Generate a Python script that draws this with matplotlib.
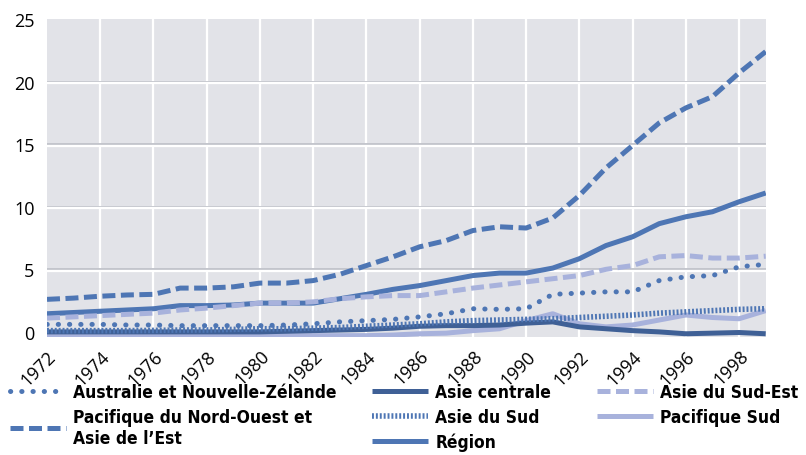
import matplotlib
matplotlib.use("Agg")
import matplotlib.pyplot as plt
from matplotlib.font_manager import FontProperties
import matplotlib.transforms as mtransforms

# Data
years = list(range(1972, 2000))

australie_nz = [0.6, 0.6, 0.6, 0.55, 0.55, 0.5, 0.5, 0.5, 0.5, 0.55, 0.65, 0.8, 0.9, 1.0,
                1.2, 1.45, 1.85, 1.8, 1.85, 3.0, 3.1, 3.2, 3.2, 4.1, 4.4, 4.5, 5.2, 5.4]
asie_centrale = [0.0, 0.0, 0.0, 0.0, 0.0, 0.0, 0.0, 0.0, 0.0, 0.05, 0.1, 0.15, 0.2, 0.3,
                 0.45, 0.5, 0.5, 0.55, 0.7, 0.8, 0.4, 0.25, 0.1, 0.0, -0.15, -0.1, -0.05, -0.15]
asie_sud_est = [1.1, 1.2, 1.3, 1.4, 1.5, 1.75, 1.9, 2.1, 2.3, 2.3, 2.4, 2.65, 2.8, 2.9,
                2.9, 3.2, 3.5, 3.75, 4.0, 4.25, 4.5, 5.0, 5.3, 6.0, 6.1, 5.9, 5.9, 6.05]
pacifique_no = [2.6, 2.7, 2.85, 2.95, 3.0, 3.5, 3.5, 3.6, 3.9, 3.9, 4.1, 4.6, 5.3, 6.0,
                6.8, 7.3, 8.1, 8.4, 8.3, 9.1, 10.9, 13.1, 14.9, 16.7, 17.9, 18.8, 20.7, 22.4]
asie_sud = [0.1, 0.1, 0.1, 0.1, 0.12, 0.15, 0.15, 0.2, 0.25, 0.25, 0.3, 0.35, 0.45, 0.55,
            0.65, 0.8, 0.9, 0.95, 1.0, 1.05, 1.15, 1.25, 1.35, 1.5, 1.6, 1.7, 1.8, 1.85]
pacifique_sud = [-0.3, -0.3, -0.3, -0.3, -0.3, -0.3, -0.3, -0.3, -0.3, -0.3, -0.3, -0.3, -0.3, -0.25,
                 -0.15, -0.1, 0.1, 0.25, 0.9, 1.45, 0.65, 0.4, 0.55, 0.95, 1.35, 1.15, 1.05, 1.7]
region = [1.45, 1.55, 1.65, 1.75, 1.85, 2.1, 2.1, 2.15, 2.3, 2.3, 2.3, 2.65, 3.0, 3.4,
          3.7, 4.1, 4.5, 4.7, 4.7, 5.1, 5.85, 6.9, 7.6, 8.65, 9.2, 9.6, 10.4, 11.1]

labels = ["Australie et Nouvelle-Zélande", "Asie centrale", "Asie du Sud-Est",
          "Pacifique du Nord-Ouest et\nAsie de l\u2019Est", "Asie du Sud", "Pacifique Sud", "Région"]

dark = "#4e76b4"
darker = "#3f6096"
light = "#a8b2dc"
bg = "#e2e3e8"

fig = plt.figure(figsize=(8.06, 4.56), dpi=100)
ax = fig.add_axes([0.0583, 0.259, 0.8917, 0.697])
ax.set_facecolor(bg)

# grid: white vertical lines, horizontal lines with grey shadow
for x in range(1974, 2000, 2):
    ax.axvline(x, color="white", lw=1.6, zorder=1)
shift = mtransforms.offset_copy(ax.transData, fig=fig, x=0, y=-1.5, units="dots")
for y in range(5, 25, 5):
    ax.plot([1972, 1999], [y, y], color="#c3c5cc", lw=1.4, zorder=1)
    ax.plot([1972, 1999], [y, y], color="white", lw=1.6, zorder=1, transform=shift)

lw = 3.6
h_ps, = ax.plot(years, pacifique_sud, color=light, lw=lw, solid_capstyle="butt", zorder=2)
h_ac, = ax.plot(years, asie_centrale, color=darker, lw=lw, solid_capstyle="butt", zorder=3)
h_as, = ax.plot(years, asie_sud, color=dark, lw=4.0, linestyle=(0, (0.35, 0.35)),
                dash_capstyle="butt", zorder=4)
h_au, = ax.plot(years, australie_nz, color=dark, lw=3.6, linestyle=(0, (0.05, 2.2)),
                dash_capstyle="round", zorder=5)
h_re, = ax.plot(years, region, color=dark, lw=lw, solid_capstyle="butt", zorder=6)
h_se, = ax.plot(years, asie_sud_est, color=light, lw=lw, linestyle=(0, (2.6, 1.1)),
                dash_capstyle="butt", zorder=7)
h_no, = ax.plot(years, pacifique_no, color=dark, lw=lw, linestyle=(0, (2.6, 1.1)),
                dash_capstyle="butt", zorder=8)

ax.set_xlim(1972, 1999)
ax.set_ylim(-0.4, 25)
ax.set_xticks(range(1972, 2000, 2))
ax.set_yticks(range(0, 26, 5))
for s in ax.spines.values():
    s.set_visible(False)
ax.tick_params(length=0, labelsize=13, pad=9)
tick_font = ["Open Sans", "DejaVu Sans"]
for t in ax.get_yticklabels():
    t.set_family(tick_font)
for t in ax.get_xticklabels():
    t.set_family(tick_font)
    t.set_rotation(45)
    t.set_ha("right")
    t.set_rotation_mode("anchor")
ax.tick_params(axis="x", pad=7)

# legend in three columns
lp = FontProperties(family="DejaVu Sans", stretch="condensed", weight="bold", size=12.5)
opts = dict(loc="upper left", frameon=False, prop=lp, handlelength=3.2, handletextpad=0.45,
            borderpad=0, borderaxespad=0, labelspacing=0.4)
top = 1 - 384 / 456
fig.legend([h_au, h_no], [labels[0], labels[3]], bbox_to_anchor=(10 / 806, top), **opts)
fig.legend([h_ac, h_as, h_re], [labels[1], labels[4], labels[6]],
           bbox_to_anchor=(372 / 806, top), **opts)
fig.legend([h_se, h_ps], [labels[2], labels[5]], bbox_to_anchor=(597 / 806, top), **opts)

fig.savefig("out.png", dpi=100)
